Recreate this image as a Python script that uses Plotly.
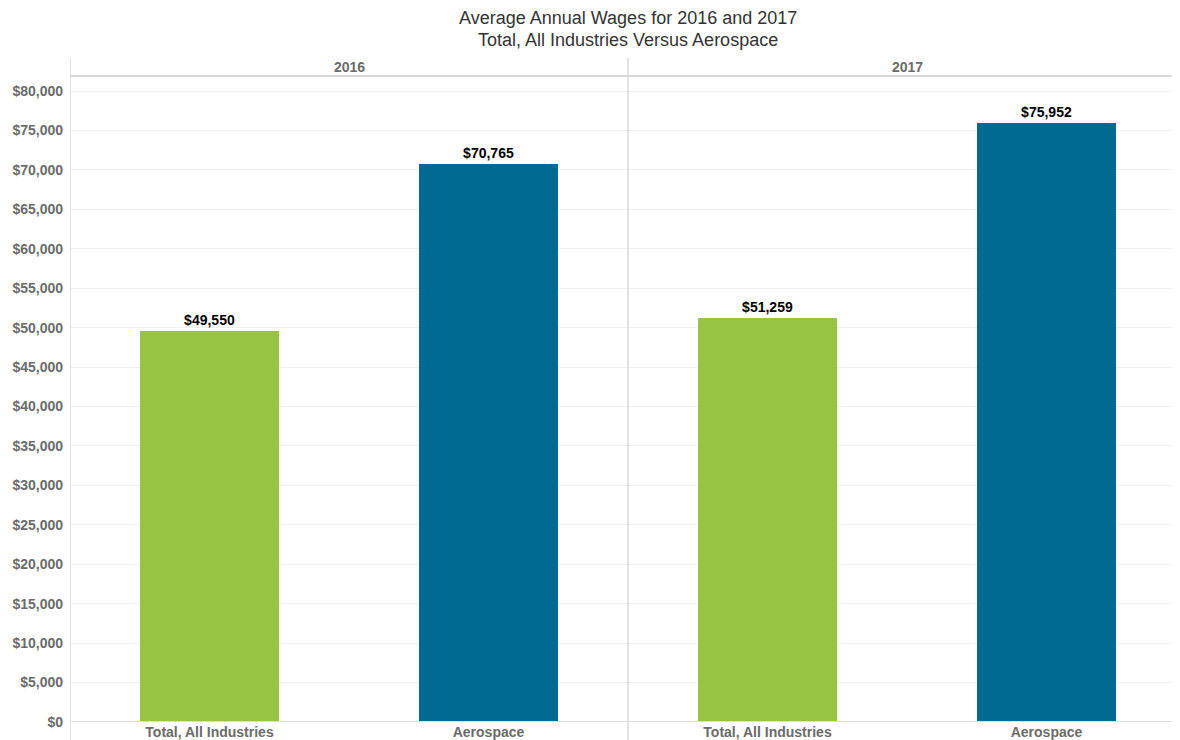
import plotly.graph_objects as go

years = ["2016", "2017"]
categories = ["Total, All Industries", "Aerospace"]
wages_2016 = [49550, 70765]
wages_2017 = [51259, 75952]
colors = ["#97c543", "#006a93"]
title_lines = ["Average Annual Wages for 2016 and 2017",
               "Total, All Industries Versus Aerospace"]

x_pos = [0, 1, 2, 3]
x_labels = categories + categories
values = wages_2016 + wages_2017
bar_colors = colors + colors
texts = ["${:,}".format(v) for v in values]

FONT = "Arial, Liberation Sans, sans-serif"
GRAY = "#6b6b6b"

# page has an 8px body margin; figure sized to compensate
W, H = 1172, 732
ML, MT, MB = 62, 68, 18
plot_h = H - MT - MB

fig = go.Figure()
fig.add_trace(go.Bar(
    x=x_pos, y=values, width=0.5,
    marker=dict(color=bar_colors, line=dict(width=0)),
    text=texts, textposition="outside", cliponaxis=False,
    textfont=dict(family=FONT, size=14, color="#000000", weight="bold"),
    hoverinfo="skip",
))

ymax = 80000 * plot_h / 631.0

fig.update_layout(
    width=W, height=H,
    margin=dict(l=ML, r=0, t=MT, b=MB),
    plot_bgcolor="white", paper_bgcolor="white",
    showlegend=False,
    font=dict(family=FONT),
    xaxis=dict(
        range=[-0.5, 3.5 - 6 / 279.0],
        tickvals=x_pos, ticktext=x_labels,
        tickfont=dict(family=FONT, size=14, color=GRAY, weight="bold"),
        showgrid=False, zeroline=False, showline=False, ticks="",
        fixedrange=True,
    ),
    yaxis=dict(
        range=[0, ymax],
        dtick=5000, tickprefix="$", tickformat=",",
        tickfont=dict(family=FONT, size=14, color=GRAY, weight="bold"),
        showgrid=True, gridcolor="#f0f0f0", gridwidth=1,
        zeroline=False, showline=False, ticks="", ticklabelstandoff=6,
    ),
    bargap=0,
)

for line, yc in zip(title_lines, [10, 32]):
    fig.add_annotation(
        x=1.5, xref="x", y=1 + (MT - yc) / plot_h, yref="paper",
        text=line, showarrow=False, yanchor="middle", xanchor="center",
        font=dict(family=FONT, size=18, color="#333333"),
    )

for i, yr in enumerate(years):
    fig.add_annotation(
        x=2 * i + 0.5, xref="x", y=1, yref="paper", yshift=9,
        text=yr, showarrow=False, yanchor="middle",
        font=dict(family=FONT, size=14, color=GRAY, weight="bold"),
    )

bot = -18.0 / plot_h
top = 1 + 18.0 / plot_h
xr = 1 + 12.0 / 1110
line_style = dict(color="#d9d9d9", width=1.5)
fig.add_shape(type="line", xref="x", yref="paper", x0=-0.5, x1=-0.5, y0=bot, y1=top, line=line_style)
fig.add_shape(type="line", xref="x", yref="paper", x0=1.5, x1=1.5, y0=bot, y1=top, line=line_style)
fig.add_shape(type="line", xref="paper", yref="paper", x0=0, x1=xr, y0=1, y1=1, line=dict(color="#d9d9d9", width=2))
fig.add_shape(type="line", xref="paper", yref="y", x0=0, x1=xr, y0=0, y1=0, line=dict(color="#dddddd", width=2))

fig.write_html("out.html")
